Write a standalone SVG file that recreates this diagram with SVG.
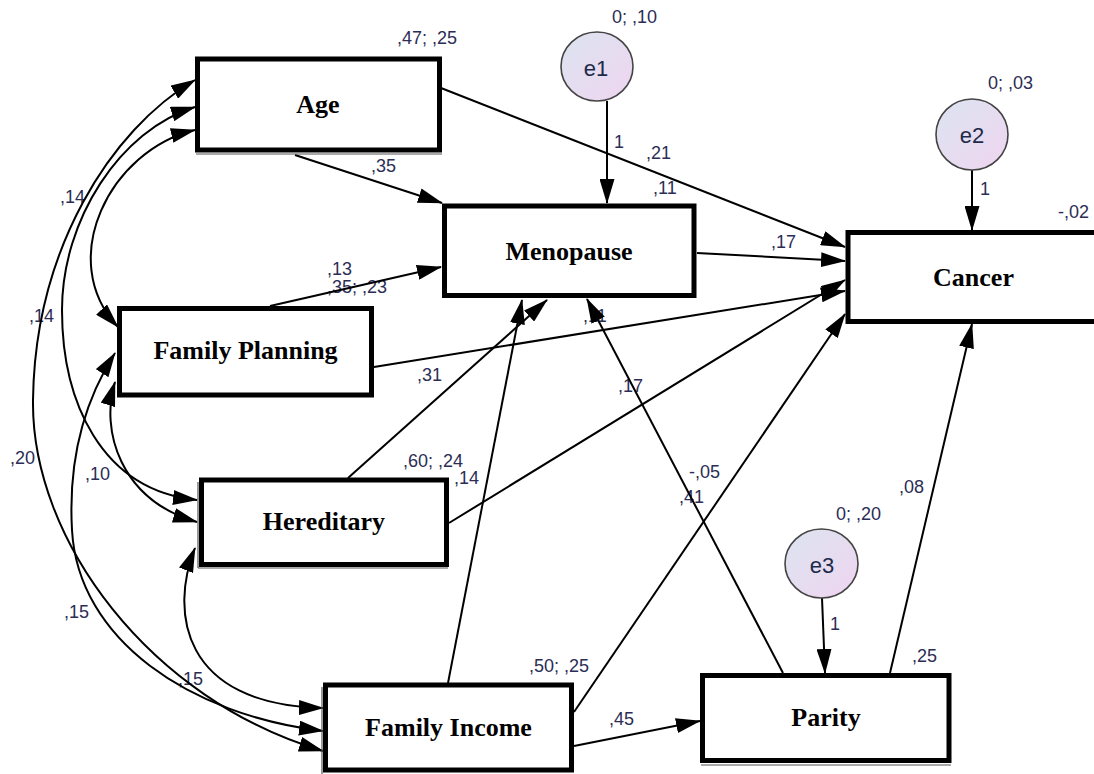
<svg xmlns="http://www.w3.org/2000/svg" width="1094" height="774" viewBox="0 0 1094 774">
<style>
.box{fill:#fff;stroke:#000;stroke-width:5}
.shadow{fill:none;stroke:#555;stroke-width:1.2}
.nt{font-family:"Liberation Serif","Times New Roman",serif;font-weight:bold;font-size:26px;text-anchor:middle;fill:#000}
.err{fill:url(#eg);stroke:#444;stroke-width:1.6}
.et{font-family:"Liberation Sans",Arial,sans-serif;font-size:22px;text-anchor:middle;fill:#1c2a4a}
.lb{font-family:"Liberation Sans",Arial,sans-serif;font-size:18px;fill:#2b2d55}
.ln{fill:none;stroke:#000;stroke-width:2;marker-end:url(#ah)}
.cv{fill:none;stroke:#000;stroke-width:2;marker-start:url(#ah);marker-end:url(#ah)}
</style>
<defs>
<linearGradient id="eg" x1="0" y1="0" x2="1" y2="1">
<stop offset="0" stop-color="#dce4f0"/>
<stop offset="1" stop-color="#efd5f0"/>
</linearGradient>
<marker id="ah" viewBox="0 0 25 15" refX="24" refY="7.5" markerWidth="25" markerHeight="15" markerUnits="userSpaceOnUse" orient="auto-start-reverse">
<path d="M0,0 L25,7.5 L0,15 z" fill="#000"/>
</marker>
</defs>
<rect width="1094" height="774" fill="#fff"/>

<g id="labels">
<text class="lb" x="397" y="44">,47; ,25</text>
<text class="lb" x="612" y="23">0; ,10</text>
<text class="lb" x="988" y="89">0; ,03</text>
<text class="lb" x="614" y="148">1</text>
<text class="lb" x="646" y="159">,21</text>
<text class="lb" x="653" y="194">,11</text>
<text class="lb" x="980" y="195">1</text>
<text class="lb" x="1058" y="218">-,02</text>
<text class="lb" x="771" y="248">,17</text>
<text class="lb" x="371" y="172">,35</text>
<text class="lb" x="60" y="203">,14</text>
<text class="lb" x="327" y="275">,13</text>
<text class="lb" x="327" y="293">,35; ,23</text>
<text class="lb" x="29" y="322">,14</text>
<text class="lb" x="417" y="381">,31</text>
<text class="lb" x="10" y="464">,20</text>
<text class="lb" x="85" y="480">,10</text>
<text class="lb" x="403" y="467">,60; ,24</text>
<text class="lb" x="454" y="484">,14</text>
<text class="lb" x="583" y="322">,11</text>
<text class="lb" x="618" y="392">,17</text>
<text class="lb" x="689" y="478">-,05</text>
<text class="lb" x="679" y="503">,41</text>
<text class="lb" x="899" y="493">,08</text>
<text class="lb" x="836" y="520">0; ,20</text>
<text class="lb" x="830" y="630">1</text>
<text class="lb" x="912" y="662">,25</text>
<text class="lb" x="529" y="672">,50; ,25</text>
<text class="lb" x="609" y="725">,45</text>
<text class="lb" x="64" y="618">,15</text>
<text class="lb" x="178" y="685">,15</text>
</g>

<g id="connectors">
<line class="ln" x1="441" y1="88" x2="845" y2="247"/>
<line class="ln" x1="295" y1="155" x2="442" y2="203"/>
<line class="ln" x1="697" y1="253" x2="845" y2="261"/>
<line class="ln" x1="270" y1="306" x2="441" y2="267"/>
<line class="ln" x1="374" y1="367" x2="845" y2="291"/>
<line class="ln" x1="348" y1="478" x2="547" y2="300"/>
<line class="ln" x1="449" y1="523" x2="845" y2="280"/>
<line class="ln" x1="448" y1="683" x2="522" y2="300"/>
<line class="ln" x1="574" y1="712" x2="845" y2="314"/>
<line class="ln" x1="574" y1="746" x2="700" y2="721"/>
<line class="ln" x1="783" y1="673" x2="587" y2="299"/>
<line class="ln" x1="890" y1="673" x2="972" y2="324"/>
<line class="ln" x1="607" y1="101" x2="607" y2="203"/>
<line class="ln" x1="972" y1="170" x2="972" y2="230"/>
<line class="ln" x1="822" y1="598" x2="825" y2="673"/>
<path class="cv" d="M195,130 C110,150 55,260 118,327"/>
<path class="cv" d="M195,107 C120,130 62,220 62,310 C62,400 100,490 197,500"/>
<path class="cv" d="M195,80 C110,130 35,250 33,400 C31,540 150,700 323,751"/>
<path class="cv" d="M115,353 C85,400 68,460 72,530 C78,640 190,715 323,731"/>
<path class="cv" d="M115,382 C100,430 120,500 197,522"/>
<path class="cv" d="M195,548 C170,610 180,705 323,708"/>
</g>

<g id="age">
<line class="shadow" x1="196" y1="154" x2="442" y2="154"/>
<rect class="box" x="197.5" y="59" width="242" height="91"/>
<text class="nt" x="318" y="113">Age</text>
</g>
<g id="menopause">
<rect class="box" x="444.5" y="206" width="249.5" height="89.5"/>
<text class="nt" x="569" y="260">Menopause</text>
</g>
<g id="cancer">
<rect class="box" x="848" y="232.5" width="260" height="89"/>
<text class="nt" x="973.5" y="286">Cancer</text>
</g>
<g id="family-planning">
<rect class="box" x="119.5" y="308.5" width="252" height="86.5"/>
<text class="nt" x="245.5" y="359">Family Planning</text>
</g>
<g id="hereditary">
<line class="shadow" x1="198" y1="482" x2="198" y2="568"/>
<line class="shadow" x1="198" y1="568" x2="448" y2="568"/>
<rect class="box" x="201.5" y="480" width="245" height="84.5"/>
<text class="nt" x="324" y="530">Hereditary</text>
</g>
<g id="family-income">
<line class="shadow" x1="322" y1="687" x2="322" y2="774"/>
<rect class="box" x="325.5" y="685" width="246" height="85"/>
<text class="nt" x="448.5" y="736">Family Income</text>
</g>
<g id="parity">
<line class="shadow" x1="701" y1="765" x2="951" y2="765"/>
<rect class="box" x="702.5" y="675.5" width="246.5" height="85"/>
<text class="nt" x="826" y="726">Parity</text>
</g>
<g id="e1">
<ellipse class="err" cx="597" cy="66.5" rx="36" ry="34.5"/>
<text class="et" x="596" y="76">e1</text>
</g>
<g id="e2">
<ellipse class="err" cx="972" cy="134.5" rx="36" ry="35.5"/>
<text class="et" x="972" y="143">e2</text>
</g>
<g id="e3">
<ellipse class="err" cx="821.5" cy="563.5" rx="36.5" ry="34.5"/>
<text class="et" x="822" y="573">e3</text>
</g>
</svg>
